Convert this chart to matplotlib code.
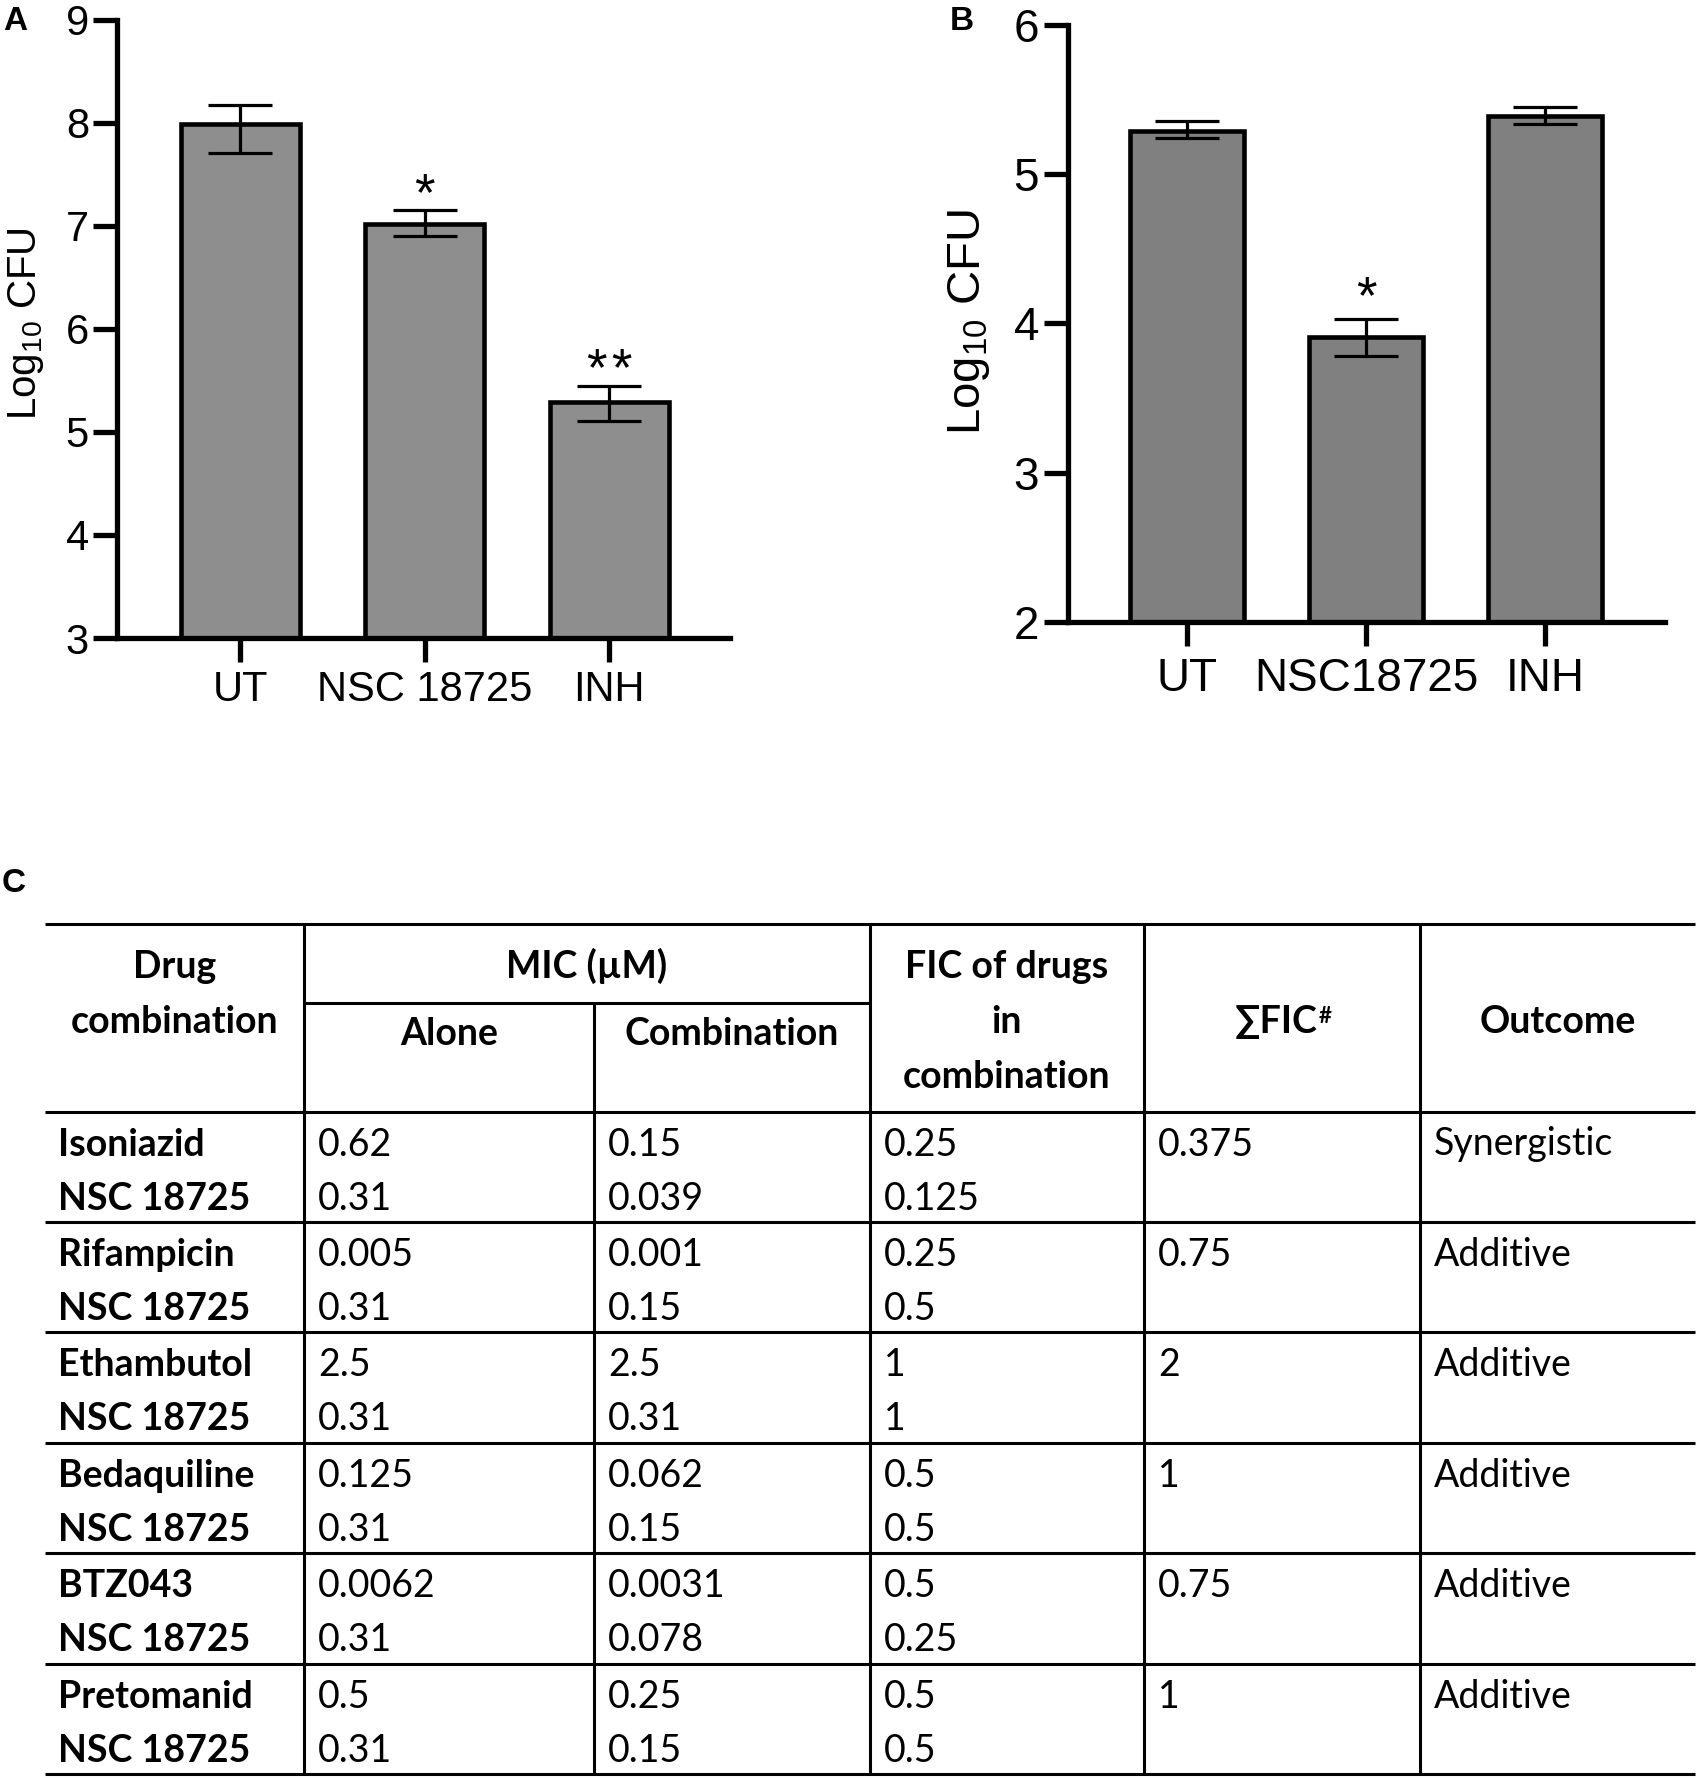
import matplotlib
matplotlib.use('Agg')
import matplotlib.pyplot as plt
import numpy as np

plt.rcParams['font.family'] = ['Liberation Sans', 'DejaVu Sans']

# ---------------- data ----------------
catsA = ['UT', 'NSC 18725', 'INH']
meanA = [7.99, 7.02, 5.29]
errA_lo = [0.28, 0.12, 0.18]
errA_hi = [0.185, 0.135, 0.16]
sigA = ['', '*', '*\u200a*']

catsB = ['UT', 'NSC18725', 'INH']
meanB = [5.29, 3.91, 5.39]
errB_lo = [0.05, 0.125, 0.05]
errB_hi = [0.065, 0.12, 0.06]
sigB = ['', '*', '']

yticksA = [3, 4, 5, 6, 7, 8, 9]
yticksB = [2, 3, 4, 5, 6]

drugs = ['Isoniazid', 'Rifampicin', 'Ethambutol', 'Bedaquiline', 'BTZ043', 'Pretomanid']
partner = 'NSC 18725'
mic_alone_drug = ['0.62', '0.005', '2.5', '0.125', '0.0062', '0.5']
mic_alone_nsc = ['0.31', '0.31', '0.31', '0.31', '0.31', '0.31']
mic_comb_drug = ['0.15', '0.001', '2.5', '0.062', '0.0031', '0.25']
mic_comb_nsc = ['0.039', '0.15', '0.31', '0.15', '0.078', '0.15']
fic_drug = ['0.25', '0.25', '1', '0.5', '0.5', '0.5']
fic_nsc = ['0.125', '0.5', '1', '0.5', '0.25', '0.5']
sum_fic = ['0.375', '0.75', '2', '1', '0.75', '1']
outcome = ['Synergistic', 'Additive', 'Additive', 'Additive', 'Additive', 'Additive']

# ---------------- figure ----------------
W, H = 1699, 1778
fig = plt.figure(figsize=(W / 100, H / 100), dpi=100)


def px_axes(left, top, right, bottom):
    return fig.add_axes([left / W, 1 - bottom / H, (right - left) / W, (bottom - top) / H])


def draw_panel(ax, cats, means, lo, hi, sig, ylim, xlim, yticks, color, barw,
               star_gap_px, labelsize, xpad):
    x = np.arange(len(cats))
    m = np.array(means)
    ax.bar(x, m - ylim[0], bottom=ylim[0], width=barw, color=color,
           edgecolor='black', linewidth=3.3, zorder=2)
    ax.errorbar(x, m, yerr=[lo, hi], fmt='none', ecolor='black', elinewidth=2.3,
                capsize=23, capthick=2.3, zorder=3)
    fs = 38
    for i, s in enumerate(sig):
        if s:
            ax.annotate(s, xy=(x[i], m[i] + hi[i]),
                        xytext=(0, star_gap_px / 1.389 - 0.575 * fs), textcoords='offset points',
                        ha='center', va='baseline', fontsize=fs,
                        family=['Liberation Sans', 'DejaVu Sans'], zorder=4)
    ax.set_xlim(*xlim)
    ax.set_ylim(*ylim)
    ax.set_yticks(yticks)
    ax.set_xticks(x)
    ax.set_xticklabels(cats)
    for sp in ['top', 'right']:
        ax.spines[sp].set_visible(False)
    for sp in ['left', 'bottom']:
        ax.spines[sp].set_linewidth(3.8)
    ax.tick_params(axis='both', length=17, width=3.8, labelsize=labelsize, color='black')
    ax.tick_params(axis='x', pad=xpad)
    ax.tick_params(axis='y', pad=3.5)
    ax.set_facecolor('none')


axA = px_axes(117.5, 19.7, 730, 638)
draw_panel(axA, catsA, meanA, errA_lo, errA_hi, sigA, (3, 9), (-0.665, 2.654), yticksA,
           '#8e8e8e', 0.643, 30, 30, 6)

axB = px_axes(1067.5, 25, 1665, 622)
draw_panel(axB, catsB, meanB, errB_lo, errB_hi, sigB, (2, 6), (-0.668, 2.67), yticksB,
           '#808080', 0.637, 36, 33, 8)

# y-axis labels
fig.text(36 / W, 1 - 324 / H, r'Log$_\mathregular{10}$ CFU', rotation=90, rotation_mode='anchor',
         ha='center', va='baseline', fontsize=29)
fig.text(980 / W, 1 - 322 / H, r'Log$_\mathregular{10}$ CFU', rotation=90, rotation_mode='anchor',
         ha='center', va='baseline', fontsize=34)

# panel letters
fig.text(3 / W, 1 - 30 / H, 'A', fontsize=24, fontweight='bold', va='baseline', ha='left')
fig.text(950 / W, 1 - 30 / H, 'B', fontsize=24, fontweight='bold', va='baseline', ha='left')
fig.text(2 / W, 1 - 892 / H, 'C', fontsize=24, fontweight='bold', va='baseline', ha='left')

# ---------------- table ----------------
tax = fig.add_axes([0, 0, 1, 1])
tax.set_xlim(0, W)
tax.set_ylim(H, 0)
tax.axis('off')

TF = ['Lato', 'DejaVu Sans']
tfs = 27
lw_t = 2.2
cols = [45, 304, 594, 870, 1144, 1420, 1695]
t_top = 924
t_sub = 1003
t_head = 1111.5
row_h = 110.4
n = len(drugs)
t_bot = t_head + n * row_h

tax.hlines([t_top, t_head], cols[0], cols[-1], color='black', lw=lw_t)
tax.hlines(t_sub, cols[1], cols[3], color='black', lw=lw_t)
for k in range(n):
    tax.hlines(t_head + (k + 1) * row_h, cols[0], cols[-1], color='black', lw=lw_t)
for c in [cols[1], cols[3], cols[4], cols[5]]:
    tax.vlines(c, t_top, t_bot, color='black', lw=lw_t)
tax.vlines(cols[2], t_sub, t_bot, color='black', lw=lw_t)

L1, L2, L3 = 978, 1033, 1088


def ctext(x, y, s, bold=True, ha='center', size=tfs):
    return tax.text(x, y, s, ha=ha, va='baseline', fontsize=size,
                    fontweight='bold' if bold else 'normal', family=TF)


def mid(a, b):
    return (a + b) / 2


ctext(mid(cols[0], cols[1]), L1, 'Drug')
ctext(mid(cols[0], cols[1]), L2, 'combination')
ctext(mid(cols[1], cols[3]), L1, 'MIC (µM)')
ctext(mid(cols[1], cols[2]), 1045, 'Alone')
ctext(mid(cols[2], cols[3]), 1045, 'Combination')
ctext(mid(cols[3], cols[4]), L1, 'FIC of drugs')
ctext(mid(cols[3], cols[4]), L2, 'in')
ctext(mid(cols[3], cols[4]), L3, 'combination')
ctext(mid(cols[5], cols[6]), L2, 'Outcome')

# ∑FIC with superscript #
sup_w = 12
tsum = ctext(mid(cols[4], cols[5]) - sup_w / 2, L2, '∑FIC')
fig.canvas.draw()
r = fig.canvas.get_renderer()
bb = tsum.get_window_extent(r)
x_right = tax.transData.inverted().transform((bb.x1, bb.y0))[0]
tax.text(x_right + 1, 1023, '#', ha='left', va='baseline', fontsize=16,
         fontweight='bold', family=TF)

pad = 14
for k in range(n):
    top = t_head + k * row_h
    b1, b2 = top + 44, top + 98
    ctext(cols[0] + 13, b1, drugs[k], bold=True, ha='left')
    ctext(cols[0] + 13, b2, partner, bold=True, ha='left')
    ctext(cols[1] + pad, b1, mic_alone_drug[k], bold=False, ha='left')
    ctext(cols[1] + pad, b2, mic_alone_nsc[k], bold=False, ha='left')
    ctext(cols[2] + pad, b1, mic_comb_drug[k], bold=False, ha='left')
    ctext(cols[2] + pad, b2, mic_comb_nsc[k], bold=False, ha='left')
    ctext(cols[3] + pad, b1, fic_drug[k], bold=False, ha='left')
    ctext(cols[3] + pad, b2, fic_nsc[k], bold=False, ha='left')
    ctext(cols[4] + pad, b1, sum_fic[k], bold=False, ha='left')
    ctext(cols[5] + pad, b1, outcome[k], bold=False, ha='left')

fig.savefig('out.png', dpi=100)
